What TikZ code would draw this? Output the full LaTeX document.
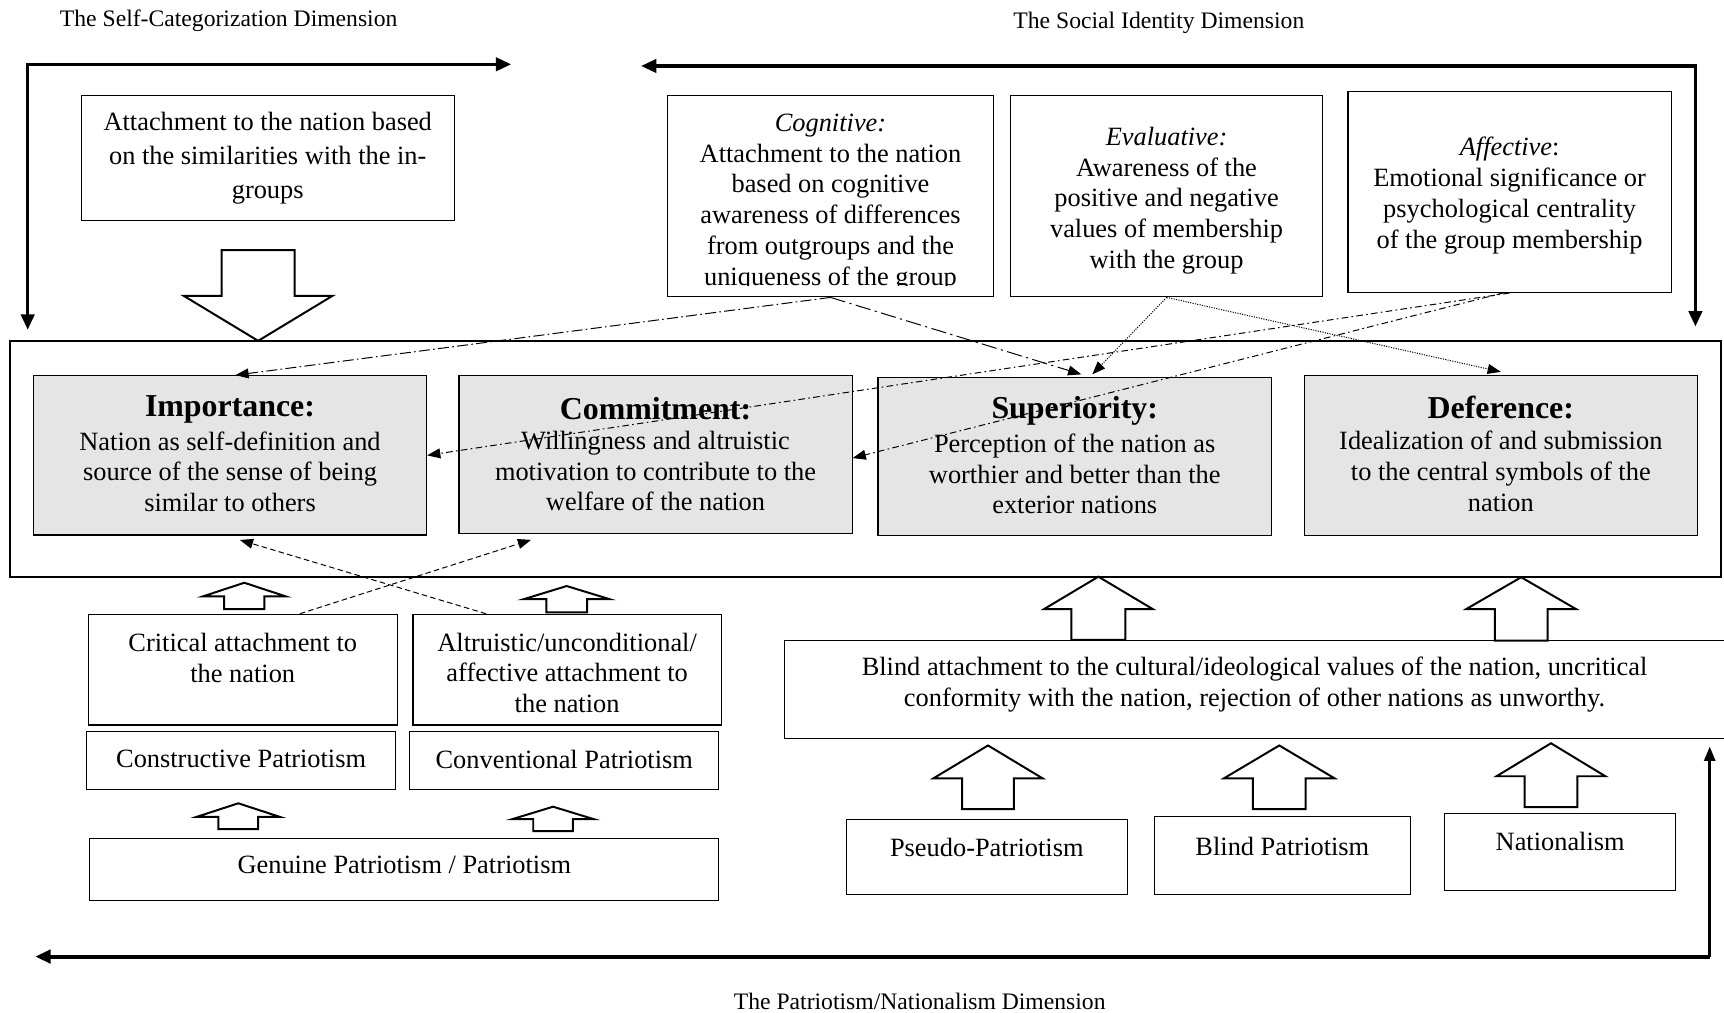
\documentclass[tikz,border=0pt]{standalone}
\usepackage{fontspec}
\setmainfont{Liberation Serif}
\usetikzlibrary{arrows.meta,fit}
\newcommand\blkup[6]{%
  \draw[blockarrow] (#1-#6,#4) -- (#1-#6,#3) -- (#1-#5,#3) -- (#1,#2) -- (#1+#5,#3) -- (#1+#6,#3) -- (#1+#6,#4) -- cycle;}
\begin{document}
\begin{tikzpicture}[x=1pt,y=-1pt,
  box/.style={draw, line width=1pt, inner sep=0pt},
  gbox/.style={box, fill=black!10},
  txt/.style={align=center, inner sep=0pt, font=\fontsize{24}{28}\selectfont},
  ttl/.style={inner sep=0pt, font=\fontsize{29}{32}\selectfont\bfseries},
  dimtxt/.style={inner sep=0pt, font=\fontsize{21.5}{25}\selectfont},
  brk/.style={line width=3.2pt, {Triangle[length=14pt,width=12pt]}-{Triangle[length=14pt,width=12pt]}},
  brkone/.style={line width=2.4pt, -{Triangle[length=13pt,width=10pt]}},
  blockarrow/.style={draw, fill=white, line width=1.8pt, line join=miter},
  conn/.style={line width=0.9pt, -{Triangle[length=12pt,width=9pt]}},
  dashdot/.style={dash pattern=on 10pt off 3pt on 1.5pt off 3pt},
  longdashdot/.style={dash pattern=on 14pt off 4pt on 2pt off 4pt},
  dashdotdot/.style={dash pattern=on 6pt off 3pt on 1.5pt off 3pt},
  dotconn/.style={line width=0.9pt, dash pattern=on 1pt off 1.2pt, -{Triangle[length=12pt,width=9pt]}},
  dashconn/.style={line width=0.9pt, dash pattern=on 5pt off 3pt, -{Triangle[length=12pt,width=9pt]}},
]
\useasboundingbox (0,0) rectangle (1568,921);

% dimension titles
\node[dimtxt] (tsc) at (208,19) {The Self-Categorization Dimension};
\node[dimtxt] (tsi) at (1054,21) {The Social Identity Dimension};
\node[dimtxt] (tpn) at (836.5,911) {The Patriotism/Nationalism Dimension};

% bracket arrows
\coordinate (tl0) at (25.2,58.5);
\coordinate (tl1) at (465,58.5);
\coordinate (tl2) at (25.2,300);
\draw[brk] (tl1) -- (tl0) -- (tl2);
\coordinate (tr0) at (1542,60);
\coordinate (tr1) at (583,60);
\coordinate (tr2) at (1542,297);
\draw[brk] (tr1) -- (tr0) -- (tr2);
\coordinate (bt0) at (1555,870);
\coordinate (bt1) at (1555,679);
\coordinate (bt2) at (32,870);
\draw[brkone] (bt0) -- (bt1);
\draw[line width=3.6pt, -{Triangle[length=14pt,width=12pt]}] (bt0) -- (bt2);

% top boxes
\node[box, fit={(74,87) (413,200.7)}] (att) {};
\node[txt, font=\fontsize{24}{30.8}\selectfont] (attt) at (243.5,144) {Attachment to the nation based\\on the similarities with the in-\\groups};

\node[box, fit={(607.3,87) (903.4,270)}] (cog) {};
\begin{scope}
\clip (607.3,87) rectangle (903.4,260);
\node[txt] (cogt) at (755.35,184) {\textit{Cognitive:}\\Attachment to the nation\\based on cognitive\\awareness of differences\\from outgroups and the\\uniqueness of the group};
\end{scope}

\node[box, fit={(919,87) (1203,270)}] (eva) {};
\node[txt] (evat) at (1061,182.5) {\textit{Evaluative:}\\Awareness of the\\positive and negative\\values of membership\\with the group};

\node[box, fit={(1226,83.4) (1520,266)}] (aff) {};
\node[txt] (afft) at (1373,178) {\textit{Affective}:\\Emotional significance or\\psychological centrality\\of the group membership};

% big down arrow
\draw[blockarrow] (201.6,227.4) -- (268,227.4) -- (268,269) -- (302.5,269) -- (234.8,310) -- (167,269) -- (201.6,269) -- cycle;

% outer frame
\node[draw, line width=2pt, inner sep=0pt, fit={(9.4,310) (1565.5,524.5)}] (outer) {};

% gray boxes
\node[gbox, fit={(30.3,341.7) (388,486.6)}] (imp) {};
\node[ttl] (impt) at (209.2,372) {Importance:};
\node[txt] (impb) at (209.2,429) {Nation as self-definition and\\source of the sense of being\\similar to others};

\node[gbox, fit={(417.5,341.7) (775,485.5)}] (com) {};
\node[ttl] (comt) at (596.2,372) {Commitment:};
\node[txt] (comb) at (596.2,428.5) {Willingness and altruistic\\motivation to contribute to the\\welfare of the nation};

\node[gbox, fit={(798.5,343) (1156.4,487.2)}] (sup) {};
\node[ttl] (supt) at (977.5,373.5) {Superiority:};
\node[txt] (supb) at (977.5,431) {Perception of the nation as\\worthier and better than the\\exterior nations};

\node[gbox, fit={(1186.3,341.7) (1543.7,487.2)}] (def) {};
\node[ttl] (deft) at (1365,371) {Deference:};
\node[txt] (defb) at (1365,428.5) {Idealization of and submission\\to the central symbols of the\\nation};

% left lower boxes
\node[box, fit={(80.2,558.7) (361.5,659.4)}] (crit) {};
\node[txt] (critt) at (220.8,598.5) {Critical attachment to\\the nation};
\node[box, fit={(375.6,558.7) (656,659.4)}] (alt) {};
\node[txt] (altt) at (515.8,612) {Altruistic/unconditional/\\affective attachment to\\the nation};
\node[box, fit={(78.5,665) (360,718)}] (cons) {};
\node[txt] (const) at (219.3,690.5) {Constructive Patriotism};
\node[box, fit={(372.5,665) (653.8,718)}] (conv) {};
\node[txt] (convt) at (513.2,690.5) {Conventional Patriotism};
\node[box, fit={(81.6,762.5) (653.8,818.6)}] (gen) {};
\node[txt] (gent) at (367.7,787) {Genuine Patriotism / Patriotism};

% small block arrows
\blkup{222.2}{530}{542.5}{554}{37.9}{18.3}
\blkup{515.4}{533}{545}{557}{39.2}{18.5}
\blkup{216.7}{730.6}{743}{754}{38}{18.1}
\blkup{503}{733.7}{745}{756}{37}{18}

% right lower boxes
\node[box, fit={(713.6,582.7) (1570,672)}] (blind) {};
\node[txt] (blindt) at (1141,622.5) {Blind attachment to the cultural/ideological values of the nation, uncritical\\conformity with the nation, rejection of other nations as unworthy.};
\node[box, fit={(769.5,745) (1025.5,813.4)}] (pseudo) {};
\node[txt] (pseudot) at (897.5,771) {Pseudo-Patriotism};
\node[box, fit={(1050,742.8) (1282.6,813.4)}] (bpat) {};
\node[txt] (bpatt) at (1166.3,769.5) {Blind Patriotism};
\node[box, fit={(1314,739.7) (1524,809.5)}] (nat) {};
\node[txt] (natt) at (1419,765) {Nationalism};

% big block arrows
\blkup{999}{524.5}{554}{582}{49.5}{24.5}
\blkup{1383.5}{525}{554}{582.7}{50}{24}
\blkup{898.6}{678}{708}{736}{49.8}{23.5}
\blkup{1163.5}{678}{708}{736}{50.5}{24}
\blkup{1410.6}{676}{706}{734}{49.5}{24}

% connectors
\draw[conn, dashdot] (cog.south) -- ([xshift=5pt]imp.north);
\draw[conn, longdashdot] (cog.south) -- ([xshift=6pt,yshift=2pt]sup.north);
\draw[dotconn] (eva.south) -- ([xshift=16pt,yshift=2pt]sup.north);
\draw[dotconn] (eva.south) -- ([yshift=3pt]def.north);
\draw[conn, dashdotdot] (aff.south) -- (imp.east);
\draw[conn, dashdotdot] ([xshift=-6pt]aff.south) -- ([yshift=-3pt]com.east);
\draw[dashconn] ([xshift=67pt]alt.north west) -- ([xshift=9pt,yshift=-4pt]imp.south);
\draw[dashconn] ([xshift=193pt]crit.north west) -- ([xshift=66pt,yshift=-5pt]com.south west);
\end{tikzpicture}
\end{document}
